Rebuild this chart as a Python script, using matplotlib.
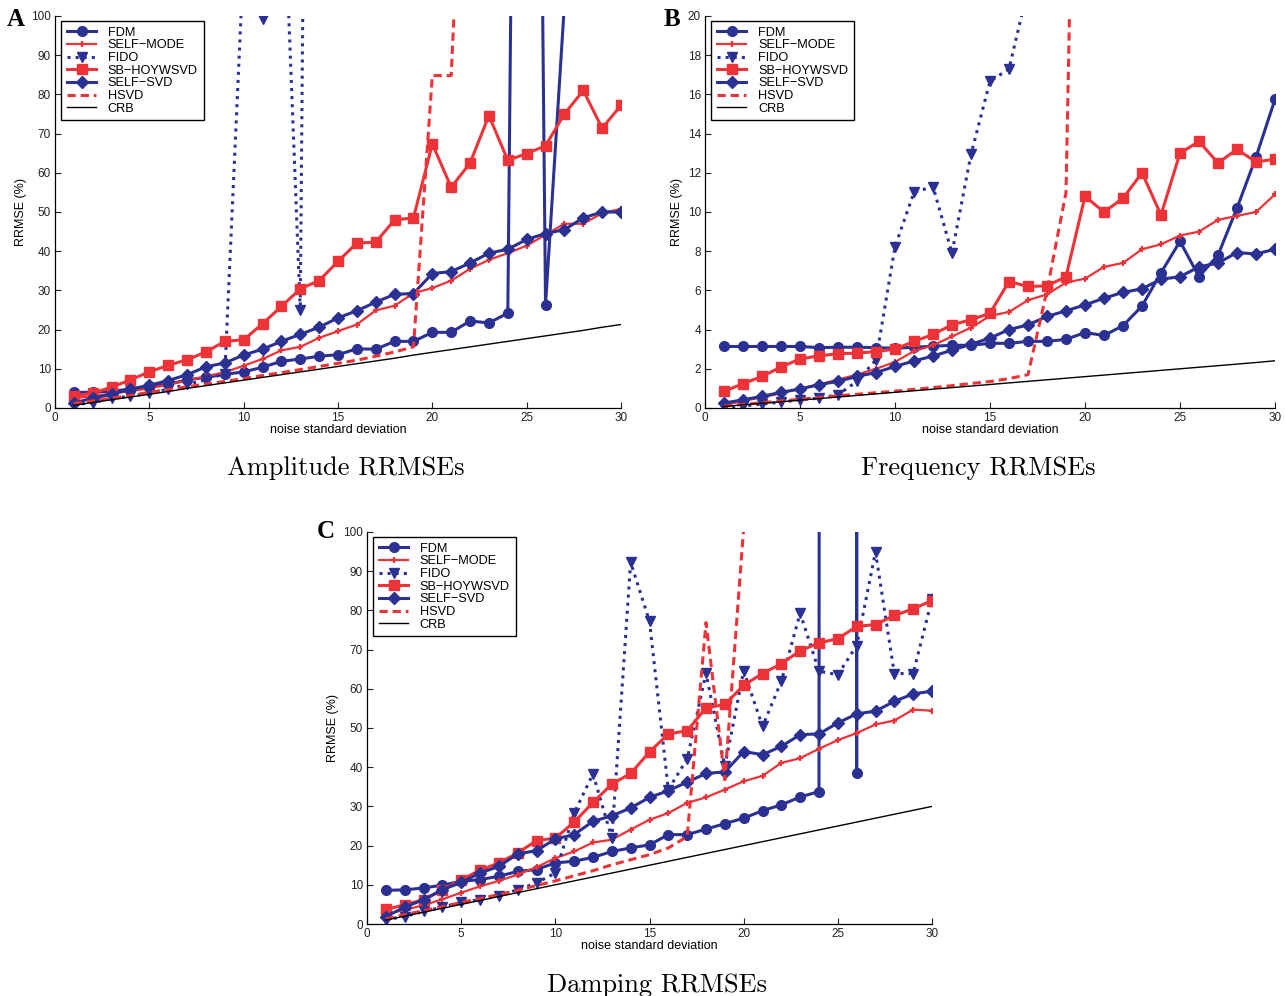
import numpy as np
import matplotlib
matplotlib.use("Agg")
import matplotlib.pyplot as plt

NAVY = "#2B3192"
RED = "#EE3338"

noise = np.arange(1, 31)

# ---- Amplitude RRMSEs (A); values far above 100 are off-scale spikes
amp_fdm = [4.0, 4.0, 4.3, 4.8, 5.5, 6.0, 7.2, 7.8, 8.6, 9.2, 10.4, 11.9, 12.5, 13.2, 13.6,
           15.1, 15.0, 17.0, 17.0, 19.3, 19.3, 22.2, 21.7, 24.2, 520, 26.3, 103, 140, 180, 210]
amp_selfmode = [2.5, 3.0, 3.7, 4.3, 5.0, 6.0, 7.0, 8.1, 9.1, 10.8, 12.5, 14.7, 15.6, 17.9, 19.6,
                21.3, 24.9, 26.1, 29.3, 30.6, 32.5, 35.5, 37.8, 39.5, 41.4, 44.2, 47.0, 47.0, 49.7, 50.8]
amp_fido = [0.9, 1.3, 2.5, 3.0, 3.8, 4.8, 6.0, 7.2, 8.8, 115, 99.3, 148, 25.0, 600, 640,
            610, 650, 700, 680, 720, 690, 740, 760, 730, 780, 800, 770, 820, 840, 860]
amp_sb = [3.0, 3.8, 5.3, 7.2, 9.2, 10.9, 12.3, 14.3, 17.0, 17.4, 21.5, 25.9, 30.4, 32.5, 37.4,
          42.1, 42.3, 48.0, 48.5, 67.4, 56.3, 62.5, 74.6, 63.2, 64.9, 66.9, 75.0, 81.0, 71.4, 77.2]
amp_selfsvd = [1.3, 2.5, 3.5, 4.8, 5.8, 7.0, 8.5, 10.5, 11.5, 13.5, 15.0, 17.0, 18.8, 20.6, 23.0,
               24.8, 27.0, 29.0, 29.2, 34.3, 34.8, 37.0, 39.5, 40.5, 43.0, 44.5, 45.5, 48.5, 50.0, 50.0]
amp_hsvd = [1.2, 1.8, 2.5, 3.2, 4.0, 4.7, 5.4, 6.1, 6.8, 7.5, 8.3, 9.0, 9.8, 10.6, 11.4,
            12.2, 13.2, 14.3, 15.6, 84.8, 84.8, 190, 240, 260, 280, 300, 320, 340, 360, 380]
amp_crb = [0.7, 1.4, 2.1, 2.8, 3.5, 4.2, 5.0, 5.7, 6.4, 7.1, 7.8, 8.5, 9.2, 9.9, 10.6,
           11.3, 12.0, 12.7, 13.5, 14.2, 14.9, 15.6, 16.3, 17.0, 17.7, 18.4, 19.1, 19.8, 20.6, 21.3]

# ---- Frequency RRMSEs (B)
frq_fdm = [3.14, 3.14, 3.14, 3.14, 3.14, 3.08, 3.1, 3.1, 3.08, 3.05, 3.1, 3.15, 3.2, 3.2, 3.3,
           3.3, 3.4, 3.4, 3.5, 3.85, 3.7, 4.2, 5.2, 6.9, 8.5, 6.7, 7.8, 10.2, 12.8, 15.75]
frq_selfmode = [0.15, 0.35, 0.55, 0.75, 1.0, 1.2, 1.45, 1.7, 2.0, 2.35, 2.9, 3.2, 3.65, 4.1, 4.7,
                4.9, 5.5, 5.8, 6.4, 6.6, 7.2, 7.4, 8.1, 8.35, 8.8, 9.0, 9.6, 9.8, 10.0, 10.9]
frq_fido = [0.05, 0.1, 0.2, 0.3, 0.42, 0.5, 0.68, 1.36, 2.46, 8.23, 11.0, 11.3, 7.9, 12.95, 16.67,
            17.3, 21.4, 25.0, 28.0, 30.0, 32.0, 34.0, 36.0, 38.0, 40.0, 42.0, 44.0, 46.0, 48.0, 50.0]
frq_sb = [0.85, 1.24, 1.61, 2.09, 2.5, 2.66, 2.77, 2.8, 2.88, 3.0, 3.4, 3.75, 4.25, 4.5, 4.84,
          6.45, 6.2, 6.23, 6.7, 10.8, 10.0, 10.7, 12.0, 9.85, 13.0, 13.6, 12.5, 13.2, 12.55, 12.7]
frq_selfsvd = [0.25, 0.42, 0.59, 0.8, 0.97, 1.19, 1.36, 1.61, 1.81, 2.12, 2.4, 2.65, 2.95, 3.25, 3.57,
               4.0, 4.24, 4.67, 4.96, 5.26, 5.6, 5.9, 6.08, 6.57, 6.7, 7.2, 7.4, 7.93, 7.86, 8.1]
frq_hsvd = [0.1, 0.18, 0.27, 0.36, 0.45, 0.53, 0.62, 0.7, 0.78, 0.86, 0.95, 1.04, 1.14, 1.25, 1.35,
            1.5, 1.7, 6.0, 11.0, 60.0, 70.0, 80.0, 90.0, 100, 110, 120, 130, 140, 150, 160]
frq_crb = [0.08, 0.16, 0.24, 0.32, 0.4, 0.48, 0.56, 0.64, 0.72, 0.8, 0.88, 0.96, 1.04, 1.12, 1.2,
           1.28, 1.36, 1.44, 1.52, 1.6, 1.68, 1.76, 1.84, 1.92, 2.0, 2.08, 2.16, 2.24, 2.32, 2.41]

# ---- Damping RRMSEs (C)
dmp_fdm = [8.6, 8.7, 9.2, 9.9, 10.9, 11.3, 12.2, 13.4, 13.9, 15.6, 16.0, 17.0, 18.5, 19.4, 20.2,
           22.8, 22.8, 24.2, 25.6, 27.0, 28.9, 30.4, 32.4, 33.8, 8000, 38.5, 8000, 8000, 8000, 8000]
dmp_selfmode = [2.5, 3.6, 4.8, 6.3, 8.0, 9.6, 11.0, 12.6, 14.5, 16.8, 18.5, 20.8, 21.5, 24.1, 26.6,
                28.3, 30.9, 32.3, 34.3, 36.4, 37.8, 41.1, 42.3, 44.7, 46.9, 48.7, 50.9, 51.9, 54.7, 54.4]
dmp_fido = [1.1, 1.9, 3.2, 4.3, 5.5, 6.2, 7.2, 8.75, 10.5, 13.0, 28.3, 38.3, 21.9, 92.3, 77.2,
            34.3, 42.1, 64.0, 40.2, 64.6, 50.4, 61.9, 79.3, 64.5, 63.6, 71.0, 94.9, 63.9, 63.9, 82.9]
dmp_sb = [3.7, 4.9, 6.2, 8.6, 11.3, 13.7, 15.6, 18.1, 21.3, 21.9, 26.0, 31.0, 35.7, 38.4, 43.9,
          48.5, 49.3, 55.1, 56.0, 60.9, 63.9, 66.4, 69.7, 71.7, 72.8, 75.9, 76.4, 78.7, 80.4, 82.5]
dmp_selfsvd = [1.9, 4.3, 6.2, 8.75, 10.6, 13.0, 14.7, 17.9, 18.7, 21.7, 22.8, 26.2, 27.6, 29.6, 32.3,
               34.0, 36.2, 38.4, 38.8, 44.0, 43.2, 45.3, 48.3, 48.5, 51.3, 53.6, 54.3, 56.8, 58.7, 59.4]
dmp_hsvd = [1.3, 2.4, 3.4, 4.4, 5.5, 6.5, 7.5, 8.6, 9.8, 11.0, 12.3, 13.6, 15.1, 16.4, 17.7,
            19.4, 22.3, 76.9, 36.8, 101, 5000, 5000, 5000, 5000, 5000, 5000, 5000, 5000, 5000, 5000]
dmp_crb = [1.0, 2.0, 3.0, 4.0, 5.0, 6.0, 7.0, 8.0, 9.0, 10.0, 11.0, 12.0, 13.0, 14.0, 15.0,
           16.0, 17.0, 18.0, 19.0, 20.0, 21.0, 22.0, 23.0, 24.0, 25.0, 26.0, 27.0, 28.0, 29.0, 30.0]

labels = ["FDM", "SELF\u2212MODE", "FIDO", "SB\u2212HOYWSVD", "SELF\u2212SVD", "HSVD", "CRB"]

W, H = 1286, 996
fig = plt.figure(figsize=(W / 100, H / 100), dpi=100)


def px_axes(left, top, right, bottom):
    return fig.add_axes([left / W, 1 - bottom / H, (right - left) / W, (bottom - top) / H])


def panel(ax, fdm, smode, fido, sb, ssvd, hsvd, crb, ymax, ystep):
    lw = 2.2
    ax.plot(noise, fdm, color=NAVY, lw=lw, marker="o", ms=7, label=labels[0])
    ax.plot(noise, smode, color=RED, lw=1.6, marker="+", ms=5, mew=1.6, label=labels[1])
    ax.plot(noise, fido, color=NAVY, lw=lw, ls=":", marker="v", ms=7.5, label=labels[2])
    ax.plot(noise, sb, color=RED, lw=lw, marker="s", ms=6.5, label=labels[3])
    ax.plot(noise, ssvd, color=NAVY, lw=lw, marker="D", ms=6, label=labels[4])
    ax.plot(noise, hsvd, color=RED, lw=lw, ls=(0, (2.7, 1.6)), label=labels[5])
    ax.plot(noise, crb, color="black", lw=1.0, label=labels[6])
    ax.set_xlim(0, 30)
    ax.set_ylim(0, ymax)
    ax.set_xticks(np.arange(0, 31, 5))
    ax.set_yticks(np.arange(0, ymax + ystep / 2, ystep))
    for s in ["top", "right"]:
        ax.spines[s].set_visible(False)
    for s in ["left", "bottom"]:
        ax.spines[s].set_linewidth(0.9)
    ax.tick_params(direction="in", length=4, width=0.8, labelsize=8.5, pad=3, colors="#222222")
    ax.set_xlabel("noise standard deviation", fontsize=9, labelpad=0)
    ax.set_ylabel("RRMSE (%)", fontsize=9, labelpad=3)
    leg = ax.legend(loc="upper left", bbox_to_anchor=(0.011, 0.987), borderaxespad=0,
                    fontsize=9.2, handlelength=2.3, handletextpad=0.9, labelspacing=0.05,
                    fancybox=False, framealpha=1, edgecolor="black", borderpad=0.45)
    leg.get_frame().set_linewidth(1.0)


plt.rcParams["font.family"] = ["Liberation Sans", "DejaVu Sans"]

axA = px_axes(55, 16, 621, 408)
panel(axA, amp_fdm, amp_selfmode, amp_fido, amp_sb, amp_selfsvd, amp_hsvd, amp_crb, 100, 10)
axB = px_axes(705, 16, 1275, 408)
panel(axB, frq_fdm, frq_selfmode, frq_fido, frq_sb, frq_selfsvd, frq_hsvd, frq_crb, 20, 2)
axC = px_axes(367, 532, 932, 924)
panel(axC, dmp_fdm, dmp_selfmode, dmp_fido, dmp_sb, dmp_selfsvd, dmp_hsvd, dmp_crb, 100, 10)

cap = dict(fontsize=19, fontname="cmr10", ha="center", va="center")
fig.text(346 / W, 1 - 468 / H, "Amplitude RRMSEs", **cap)
fig.text(978 / W, 1 - 468 / H, "Frequency RRMSEs", **cap)
fig.text(657 / W, 1 - 985 / H, "Damping RRMSEs", **cap)

let = dict(fontsize=18, fontweight="bold", family="Liberation Serif", ha="center", va="center")
fig.text(16 / W, 1 - 19 / H, "A", **let)
fig.text(672 / W, 1 - 19 / H, "B", **let)
fig.text(326 / W, 1 - 532 / H, "C", **let)

fig.savefig("out.png", dpi=100)
plt.close(fig)
